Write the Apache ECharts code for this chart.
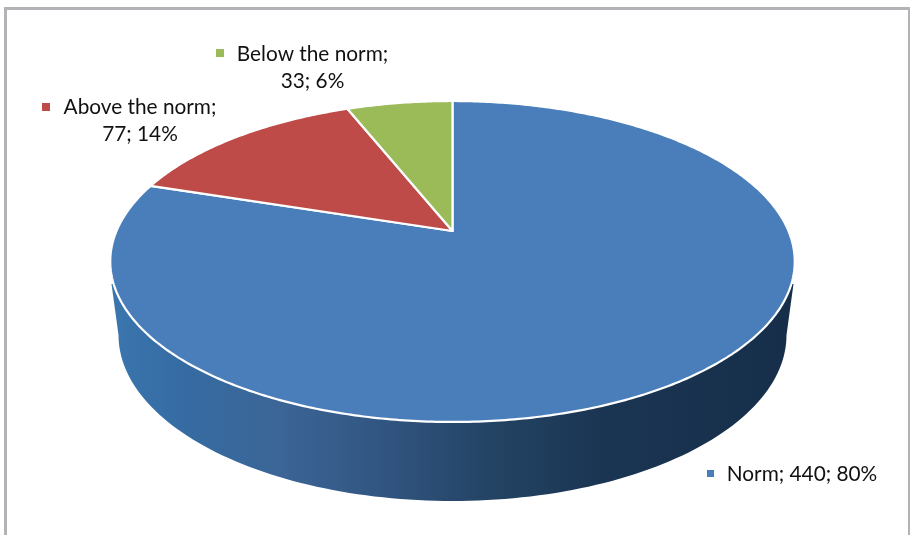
<!DOCTYPE html>
<html><head><meta charset="utf-8">
<style>html,body{margin:0;padding:0;background:#fff}#c{width:910px;height:535px}</style>
<script src="https://cdn.jsdelivr.net/npm/echarts@6/dist/echarts.min.js"></script>
</head><body><div id="c"></div>
<script>
var categories = ['Norm', 'Above the norm', 'Below the norm'];
var values = [440, 77, 33];
var colors = ['#4a7ebb', '#be4b48', '#9bbb59'];

// Layout of the perspective disc and of each label
var apex = [452.5, 231], spreadX = 336, spreadY = 110.8, tilt = -0.19;
var wallBottom = {cx: 452.5, cy: 335, rx: 334, ry: 166};
var labelLayout = [
  {mx: 707, my: 470, ms: 7, lines: [{x: 802, y: 474}], oneLine: true},
  {mx: 42,  my: 103, ms: 8, lines: [{x: 140, y: 107}, {x: 140, y: 134}]},
  {mx: 216, my: 49,  ms: 8, lines: [{x: 312.5, y: 54}, {x: 312.5, y: 81}]}
];
var FONT = '20.8px Lato, sans-serif';
var total = values.reduce(function (a, b) { return a + b; }, 0);

// Circle angle (clockwise from the top) projected on to the tilted disc
function project(a) {
  var u = Math.sin(a), v = -Math.cos(a), d = 1 + tilt * v;
  return [apex[0] + spreadX * u / d, (apex[1] + spreadY * v) / d];
}
function sliceStart(i) {
  var s = 0;
  for (var k = 0; k < i; k++) s += values[k];
  return s / total * Math.PI * 2;
}
function wallPoints() {
  var pts = [[111.5, 284]];
  for (var k = 0; k <= 120; k++) {
    var t = Math.PI - k / 120 * Math.PI;
    pts.push([wallBottom.cx + wallBottom.rx * Math.cos(t), wallBottom.cy + wallBottom.ry * Math.sin(t)]);
  }
  pts.push([793.5, 284]);
  pts.push([apex[0], 280]);
  return pts;
}
function renderItem(params, api) {
  var i = params.dataIndex, children = [];
  var a0 = sliceStart(i), a1 = a0 + api.value(0) / total * Math.PI * 2;
  if (i === 0) {
    children.push({
      type: 'polygon', shape: {points: wallPoints()}, silent: true,
      style: {fill: {type: 'linear', x: 110, y: 0, x2: 794, y2: 0, global: true, colorStops: [
        {offset: 0, color: '#3b76ae'},
        {offset: 0.1, color: '#356ca3'},
        {offset: 0.25, color: '#3b6596'},
        {offset: 0.4, color: '#315581'},
        {offset: 0.55, color: '#244465'},
        {offset: 0.72, color: '#1a3552'},
        {offset: 1, color: '#162e4a'}
      ]}}
    });
  }
  var pts = [apex.slice()], n = Math.max(8, Math.round((a1 - a0) * 90));
  for (var k = 0; k <= n; k++) pts.push(project(a0 + (a1 - a0) * k / n));
  children.push({
    type: 'polygon', shape: {points: pts},
    style: {fill: colors[i], stroke: '#ffffff', lineWidth: 2.2, lineJoin: 'round'}
  });
  var L = labelLayout[i], pct = Math.round(values[i] / total * 100) + '%';
  children.push({type: 'rect', shape: {x: L.mx, y: L.my, width: L.ms, height: L.ms}, style: {fill: colors[i]}});
  var texts = L.oneLine
    ? [categories[i] + '; ' + values[i] + '; ' + pct]
    : [categories[i] + ';', values[i] + '; ' + pct];
  texts.forEach(function (t, j) {
    children.push({type: 'text', style: {
      text: t, x: L.lines[j].x, y: L.lines[j].y, font: FONT,
      fill: '#111111', textAlign: 'center', textVerticalAlign: 'middle'
    }});
  });
  return {type: 'group', children: children};
}
var chart = echarts.init(document.getElementById('c'), null, {renderer: 'canvas'});
chart.setOption({
  animation: false,
  backgroundColor: '#ffffff',
  graphic: [
    {type: 'rect', shape: {x: 4, y: 7, width: 906, height: 3}, style: {fill: '#b3b3b7'}},
    {type: 'rect', shape: {x: 4, y: 7, width: 3, height: 528}, style: {fill: '#b3b3b7'}},
    {type: 'rect', shape: {x: 908, y: 7, width: 2, height: 528}, style: {fill: '#b3b3b7'}}
  ],
  series: [{
    type: 'custom', coordinateSystem: 'none', renderItem: renderItem,
    data: values.map(function (v, i) { return {name: categories[i], value: [v]}; })
  }]
});
</script></body></html>
